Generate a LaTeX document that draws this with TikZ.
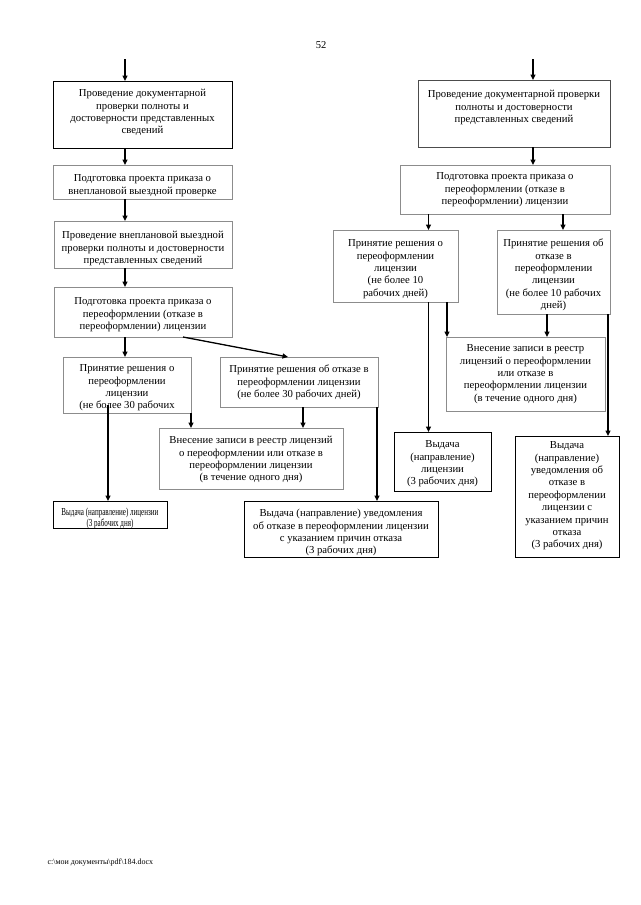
\documentclass[tikz,border=0pt]{standalone}
\usepackage{fontspec}
\setmainfont{Liberation Serif}
\usetikzlibrary{arrows.meta}
\tikzset{
  boxbase/.style={inner sep=0pt, outer sep=0pt, anchor=north west, font=\fontsize{10.7}{12.4}\selectfont},
  gbox/.style={boxbase, draw=black!45, line width=0.9pt},
  dbox/.style={boxbase, draw=black!70, line width=0.9pt},
  kbox/.style={boxbase, draw=black, line width=1pt},
  conn/.style={draw=black, line width=1.3pt, -{Triangle[length=5.5pt,width=5pt]}},
}
\newcommand{\flowbox}[8]{\node[#1] (#2) at (#3,-#4) {\begin{minipage}[c][#6pt][t]{#5pt}\centering\vspace{#7pt}\strut #8\end{minipage}};}
\begin{document}
\begin{tikzpicture}[x=1pt,y=1pt]
\useasboundingbox[fill=white] (0,0) rectangle (640,-905);
% page number and footer
\node[font=\fontsize{10.5}{12}\selectfont] (pnum) at (321,-45) {52};
\node[anchor=west, font=\fontsize{8}{10}\selectfont] (foot) at (44,-863) {c:\textbackslash мои документы\textbackslash pdf\textbackslash184.docx};
% left column
\flowbox{kbox}{b1}{53}{81}{179}{67}{7}{Проведение документарной\\проверки полноты и\\достоверности представленных\\сведений}
\flowbox{gbox}{b2}{53}{165}{179}{34}{8}{Подготовка проекта приказа о\\внеплановой выездной проверке}
\flowbox{gbox}{b3}{54}{221}{178}{47}{9}{Проведение внеплановой выездной\\проверки полноты и достоверности\\представленных сведений}
\flowbox{gbox}{b4}{54}{287}{178}{50}{9}{Подготовка проекта приказа о\\переоформлении (отказе в\\переоформлении) лицензии}
\flowbox{gbox}{b5}{63}{357}{128}{56}{6}{Принятие решения о\\переоформлении\\лицензии\\(не более 30 рабочих}
\flowbox{gbox}{b6}{220}{357}{158}{50}{7}{Принятие решения об отказе в\\переоформлении лицензии\\(не более 30 рабочих дней)}
\flowbox{gbox}{b7}{159}{428}{184}{61}{7}{Внесение записи в реестр лицензий\\о переоформлении или отказе в\\переоформлении лицензии\\(в течение одного дня)}
\flowbox{kbox,font=\fontsize{10.7}{10.5}\selectfont}{b8}{53}{501}{114}{27}{7}{\scalebox{0.66}[1]{\begin{tabular}[t]{@{}c@{}}Выдача (направление) лицензии\\(3 рабочих дня)\end{tabular}}}
\flowbox{kbox}{b9}{244}{501}{194}{56}{7}{Выдача (направление) уведомления\\об отказе в переоформлении лицензии\\с указанием причин отказа\\(3 рабочих дня)}
% right column
\flowbox{dbox}{r1}{418}{80}{192}{67}{9}{Проведение документарной проверки\\полноты и достоверности\\представленных сведений}
\flowbox{gbox}{r2}{400}{165}{210}{49}{6}{Подготовка проекта приказа о\\переоформлении (отказе в\\переоформлении) лицензии}
\flowbox{gbox}{r3}{333}{230}{125}{72}{8}{Принятие решения о\\переоформлении\\лицензии\\(не более 10\\рабочих дней)}
\flowbox{gbox}{r4}{497}{230}{113}{84}{8}{Принятие решения об\\отказе в\\переоформлении\\лицензии\\(не более 10 рабочих\\дней)}
\flowbox{gbox}{r5}{446}{337}{159}{74}{6}{Внесение записи в реестр\\лицензий о переоформлении\\или отказе в\\переоформлении лицензии\\(в течение одного дня)}
\flowbox{kbox}{r6}{394}{432}{97}{59}{7}{Выдача\\(направление)\\лицензии\\(3 рабочих дня)}
\flowbox{kbox}{r7}{515}{436}{104}{121}{4}{Выдача\\(направление)\\уведомления об\\отказе в\\переоформлении\\лицензии с\\указанием причин\\отказа\\(3 рабочих дня)}
% column coordinates
\coordinate (tl) at (125,-59);
\coordinate (cA) at (125,0);
\coordinate (cB) at (108,0);
\coordinate (cC) at (303,0);
\coordinate (cD) at (377,0);
\coordinate (tr) at (533,-59);
\coordinate (cE) at (428.5,0);
\coordinate (cF) at (563,0);
\coordinate (cG) at (447,0);
\coordinate (cH) at (547,0);
\coordinate (cI) at (608,0);
\coordinate (dS) at (183,0);
\coordinate (dE) at (288,0);
% left connectors
\draw[conn] (tl) -- (tl |- b1.north);
\draw[conn] (b1.south -| cA) -- (b2.north -| cA);
\draw[conn] (b2.south -| cA) -- (b3.north -| cA);
\draw[conn] (b3.south -| cA) -- (b4.north -| cA);
\draw[conn] (b4.south -| cA) -- (b5.north -| cA);
\draw[conn] (b4.south -| dS) -- (b6.north -| dE);
\draw[conn] (b5.south east) -- (b5.south east |- b7.north);
\draw[conn] (b6.south -| cC) -- (b7.north -| cC);
\draw[conn] ([yshift=8pt]b5.south -| cB) -- (b8.north -| cB);
\draw[conn] (b6.south -| cD) -- (b9.north -| cD);
% right connectors
\draw[conn] (tr) -- (tr |- r1.north);
\draw[conn] (r1.south -| tr) -- (r2.north -| tr);
\draw[conn] (r2.south -| cE) -- (r3.north -| cE);
\draw[conn] (r2.south -| cF) -- (r4.north -| cF);
\draw[conn] (r3.south -| cE) -- (r6.north -| cE);
\draw[conn] (r3.south -| cG) -- (r5.north -| cG);
\draw[conn] (r4.south -| cH) -- (r5.north -| cH);
\draw[conn] (r4.south -| cI) -- (r7.north -| cI);
\end{tikzpicture}
\end{document}
